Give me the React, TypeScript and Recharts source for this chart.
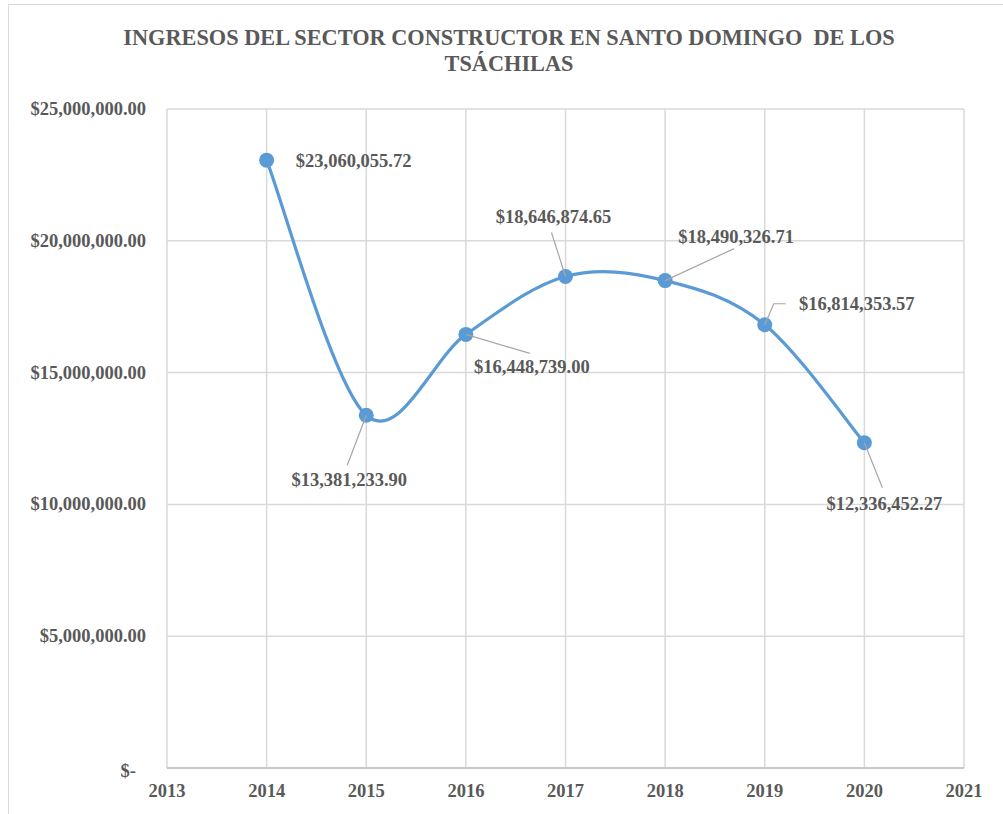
import React from "react";
import { LineChart, Line, XAxis, YAxis, CartesianGrid, LabelList } from "recharts";

const YEARS = [2014, 2015, 2016, 2017, 2018, 2019, 2020];
const INGRESOS = [23060055.72, 13381233.9, 16448739.0, 18646874.65, 18490326.71, 16814353.57, 12336452.27];
const X_TICKS = [2013, 2014, 2015, 2016, 2017, 2018, 2019, 2020, 2021];
const Y_TICKS = [0, 5000000, 10000000, 15000000, 20000000, 25000000];
const TITLE_LINES = ["INGRESOS DEL SECTOR CONSTRUCTOR EN SANTO DOMINGO  DE LOS", "TSÁCHILAS"];

const data = YEARS.map((y, i) => ({ year: y, value: INGRESOS[i] }));

// label placement relative to the point: text centre (dx, dy), leader end points
const LABEL_POS = [
  { dx: 87, dy: 1, leader: null },
  { dx: -17, dy: 65, leader: [[-19, 50]] },
  { dx: 66, dy: 33, leader: [[64, 19]] },
  { dx: -12, dy: -59, leader: [[-14, -44]] },
  { dx: 71, dy: -44, leader: [[69, -32]] },
  { dx: 92, dy: -21, leader: [[9, -21], [21, -21]] },
  { dx: 20, dy: 61, leader: [[18, 45]] },
];

const TEXT = "#595959";
const FONT = "'Liberation Serif', 'Times New Roman', serif";
const BLUE = "#5B9BD5";

const money = (v: number) =>
  "$" + v.toLocaleString("en-US", { minimumFractionDigits: 2, maximumFractionDigits: 2 });

// Excel-like smoothed line (Catmull-Rom style bezier)
function excelCurve(context: any) {
  let xs: number[] = [];
  let ys: number[] = [];
  return {
    areaStart() {},
    areaEnd() {},
    lineStart() {
      xs = [];
      ys = [];
    },
    lineEnd() {
      const n = xs.length;
      if (!n) return;
      context.moveTo(xs[0], ys[0]);
      for (let i = 0; i < n - 1; i++) {
        const p0 = i > 0 ? i - 1 : i;
        const p3 = i + 2 < n ? i + 2 : i + 1;
        const c1x = xs[i] + (xs[i + 1] - xs[p0]) / 6;
        const c1y = ys[i] + (ys[i + 1] - ys[p0]) / 6;
        const c2x = xs[i + 1] - (xs[p3] - xs[i]) / 6;
        const c2y = ys[i + 1] - (ys[p3] - ys[i]) / 6;
        context.bezierCurveTo(c1x, c1y, c2x, c2y, xs[i + 1], ys[i + 1]);
      }
    },
    point(x: number, y: number) {
      xs.push(+x);
      ys.push(+y);
    },
  };
}

const YTick = (props: any) => {
  const { x, y, payload } = props;
  const v = payload.value;
  const label = v === 0 ? "$-" : money(v);
  return (
    <text x={v === 0 ? x - 10 : x} y={v === 0 ? y + 3 : y} textAnchor="end" dominantBaseline="central"
      fill={TEXT} fontSize={18.5} fontWeight="bold" fontFamily={FONT}>
      {label}
    </text>
  );
};

const XTick = (props: any) => {
  const { x, y, payload } = props;
  return (
    <text x={x} y={y} textAnchor="middle" dy={19} fill={TEXT} fontSize={18.5} fontWeight="bold" fontFamily={FONT}>
      {payload.value}
    </text>
  );
};

const DataLabel = (props: any) => {
  const { x, y, index, value } = props;
  const pos = LABEL_POS[index];
  if (!pos) return null;
  let leader = null;
  if (pos.leader) {
    const pts = [[0, 0], ...pos.leader].map((p) => `${x + p[0]},${y + p[1]}`).join(" ");
    leader = <polyline points={pts} fill="none" stroke="#a6a6a6" strokeWidth={1.2} />;
  }
  return (
    <g>
      {leader}
      <text x={x + pos.dx} y={y + pos.dy} textAnchor="middle" dominantBaseline="central"
        fill={TEXT} fontSize={18.5} fontWeight="bold" fontFamily={FONT}>
        {money(value)}
      </text>
    </g>
  );
};

export default function App() {
  return (
    <div style={{ position: "absolute", left: 0, top: 0, width: 1003, height: 814, overflow: "hidden", background: "#fff" }}>
      <div style={{ position: "absolute", left: 8, top: 4, width: 1200, height: 1000, border: "1.5px solid #d9d9d9", boxSizing: "border-box" }} />
      <div style={{ position: "absolute", left: 16, top: 25, width: 986, textAlign: "center", color: TEXT,
        fontFamily: FONT, fontWeight: "bold", fontSize: 22.3, lineHeight: "26px", whiteSpace: "pre" }}>
        {TITLE_LINES.map((t, i) => (<div key={i}>{t}</div>))}
      </div>
      <div style={{ position: "absolute", left: 0, top: 0 }}>
        <LineChart width={1003} height={814} data={data} margin={{ top: 109, right: 39, bottom: 16, left: 0 }}>
          <CartesianGrid stroke="#d9d9d9" strokeWidth={1.5} />
          <XAxis dataKey="year" type="number" domain={[2013, 2021]} ticks={X_TICKS} interval={0}
            axisLine={{ stroke: "#bfbfbf", strokeWidth: 1.5 }} tickLine={false} tickSize={0} tickMargin={10}
            height={30} tick={<XTick />} allowDecimals={false} />
          <YAxis type="number" domain={[0, 25000000]} ticks={Y_TICKS} width={167} axisLine={false}
            tickLine={false} tickSize={0} tickMargin={21} tick={<YTick />} />
          <Line dataKey="value" type={excelCurve as any} stroke={BLUE} strokeWidth={3.2}
            dot={{ r: 7.5, fill: BLUE, stroke: "none" }} activeDot={false} isAnimationActive={false}>
            <LabelList dataKey="value" content={<DataLabel />} />
          </Line>
        </LineChart>
      </div>
    </div>
  );
}
